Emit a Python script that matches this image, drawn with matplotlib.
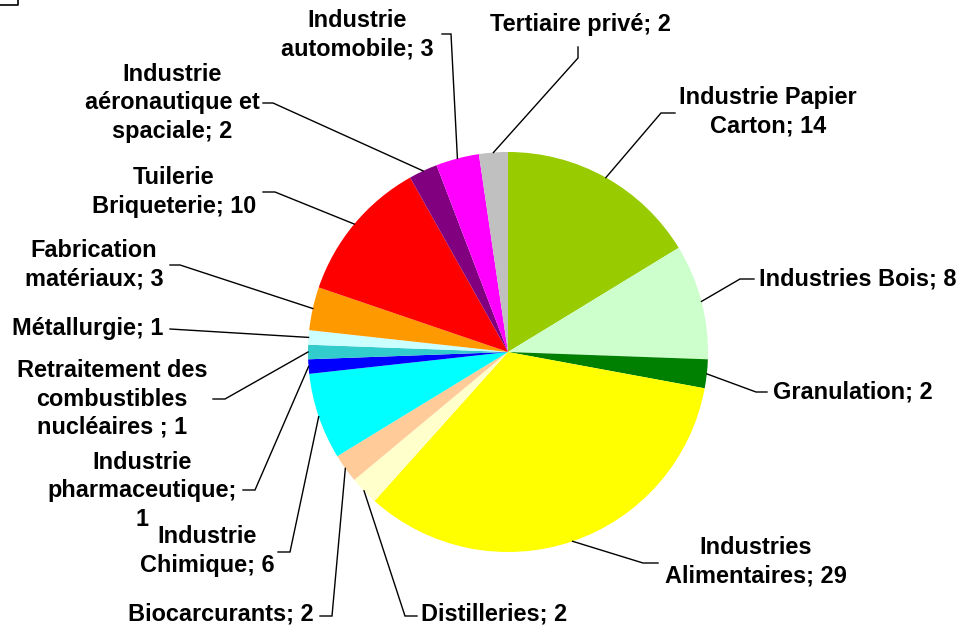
import numpy as np
import matplotlib.pyplot as plt

plt.rcParams['font.family'] = ['Liberation Sans', 'DejaVu Sans']

# données
categories = [
    "Industrie Papier\nCarton", "Industries Bois", "Granulation",
    "Industries\nAlimentaires", "Distilleries", "Biocarcurants",
    "Industrie\nChimique", "Industrie\npharmaceutique;\n1",
    "Retraitement des\ncombustibles\nnucléaires ; 1", "Métallurgie",
    "Fabrication\nmatériaux", "Tuilerie\nBriqueterie",
    "Industrie\naéronautique et\nspaciale", "Industrie\nautomobile",
    "Tertiaire privé",
]
values = [14, 8, 2, 29, 2, 2, 6, 1, 1, 1, 3, 10, 2, 3, 2]
colors = ['#99CC00', '#CCFFCC', '#008000', '#FFFF00', '#FFFFCC', '#FFCC99',
          '#00FFFF', '#0000FF', '#33CCCC', '#CCFFFF', '#FF9900', '#FF0000',
          '#800080', '#FF00FF', '#C0C0C0']

# texte des étiquettes
labels = []
for c, v in zip(categories, values):
    if c.endswith('1') and ';' in c:
        labels.append(c)
    else:
        labels.append(f"{c}; {v}")

W, H = 960, 632
# positions des étiquettes (pixels): centre texte, début du trait, coude du trait
label_pos = [
    ((768, 112), (675, 113), (661, 113)),
    ((858, 279), (754, 279), (740, 279)),
    ((853, 392), (767, 392), (756, 392)),
    ((756, 562), (658, 563), (643, 563)),
    ((494, 614), (417, 616), (405, 616)),
    ((221, 614), (320, 616), (332, 616)),
    ((207, 551), (278, 552), (290, 552)),
    ((142, 491), (243, 490), (255, 490)),
    ((112, 399), (213, 399), (225, 399)),
    ((88, 329), (170, 329), (170, 329)),
    ((94, 265), (170, 265), (180, 265)),
    ((174, 192), (263, 192), (275, 192)),
    ((172, 103), (263, 103), (273, 103)),
    ((357, 35), (442, 34), (451, 34)),
    ((580, 24), (578, 47), (578, 58)),
]

fig = plt.figure(figsize=(9.6, 6.32), dpi=100)
ax = fig.add_axes([0, 0, 1, 1])

cx, cy, r = 508, H - 352, 200
wedges, _ = ax.pie(values, colors=colors, startangle=90, counterclock=False,
                   center=(cx, cy), radius=r, wedgeprops=dict(linewidth=0))

for w, lab, (tpos, lstart, lstub) in zip(wedges, labels, label_pos):
    mid = np.deg2rad((w.theta1 + w.theta2) / 2)
    px = cx + r * np.cos(mid)
    py = cy + r * np.sin(mid)
    ax.plot([lstart[0], lstub[0], px], [H - lstart[1], H - lstub[1], py],
            color='black', lw=1.0, solid_joinstyle='miter')
    ax.text(tpos[0], H - tpos[1], lab, ha='center', va='center',
            fontsize=16.9, fontweight='bold', linespacing=1.28)

# coin du cadre
ax.plot([0, 18, 18], [H - 5, H - 5, H], color='black', lw=1.2)

ax.set_xlim(0, W)
ax.set_ylim(0, H)
ax.set_aspect('equal')
ax.axis('off')

plt.savefig('out.png', dpi=100)
